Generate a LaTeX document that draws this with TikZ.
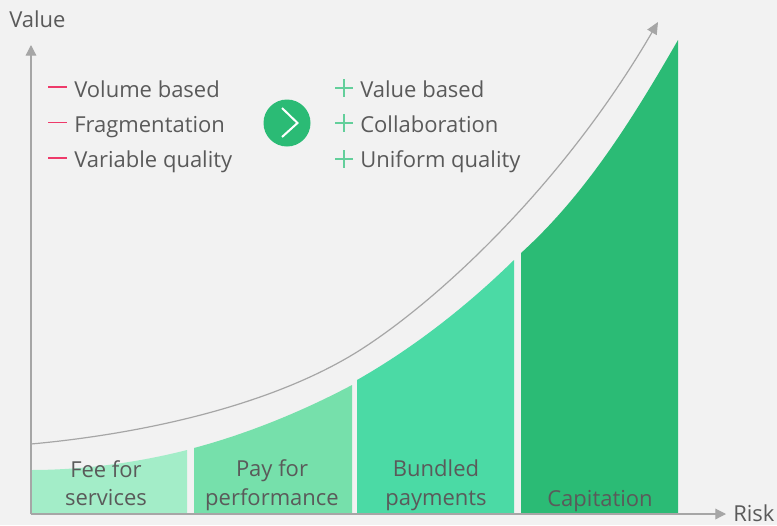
\documentclass[tikz,border=0pt]{standalone}
\usepackage{fontspec}
\setmainfont{Open Sans}
\usetikzlibrary{arrows.meta}
\definecolor{pagegrey}{HTML}{F2F2F2}
\definecolor{axisgrey}{HTML}{A6A6A6}
\definecolor{textgrey}{HTML}{5A5A5A}
\definecolor{feegreen}{HTML}{A3EDC8}
\definecolor{paygreen}{HTML}{76E0AB}
\definecolor{bundlegreen}{HTML}{4BDAA5}
\definecolor{capgreen}{HTML}{2BBB75}
\definecolor{minusred}{HTML}{EE3A6A}
\definecolor{plusgreen}{HTML}{63CF9B}
\tikzset{
  axisline/.style={draw=axisgrey,line width=0.9pt,-{Triangle[length=8pt,width=8pt]}},
  label/.style={text=textgrey,inner sep=0pt,font=\fontsize{16.5}{18}\selectfont},
  minusmark/.style={draw=minusred,line width=1.2pt},
  plusmark/.style={draw=plusgreen,line width=1.2pt},
}
\begin{document}
\begin{tikzpicture}[x=0.75pt,y=0.75pt,yscale=-1,xscale=1]
\fill[pagegrey] (0,0) rectangle (777,525);
\useasboundingbox (0,0) rectangle (777,525);

%Blocks
\fill[feegreen] (31,514) -- (31,470) .. controls (85,470) and (140,462) .. (187,450) -- (187,514) -- cycle;
\fill[paygreen] (194,514) -- (194,448) .. controls (250,433) and (305,410) .. (352,385) -- (352,514) -- cycle;
\fill[bundlegreen] (357,514) -- (357,380) .. controls (415,347) and (468,305) .. (514,260) -- (514,514) -- cycle;
\fill[capgreen] (521,514) -- (521,253) .. controls (585,195) and (632,120) .. (678,40) -- (678,514) -- cycle;

%Axes
\coordinate (origin) at (31,514);
\coordinate (valuetip) at (31,45);
\coordinate (risktip) at (726,514);
\coordinate (curvestart) at (31,444);
\coordinate (curvemid) at (357,352);
\coordinate (curvetip) at (658,22);
\draw[axisline] (origin) -- (valuetip);
\draw[axisline] (origin) -- (risktip);
\draw[draw=axisgrey,line width=0.9pt,-{Triangle[length=9pt,width=8pt]}] (curvestart) .. controls (120,436) and (260,412) .. (curvemid) .. controls (440,300) and (565,182) .. (curvetip);

%Minus marks
\coordinate (minusa) at (48,87);
\coordinate (minusb) at (48,122.5);
\coordinate (minusc) at (48,158);
\coordinate (minusaend) at (67,87);
\coordinate (minusbend) at (67,122.5);
\coordinate (minuscend) at (67,158);
\draw[minusmark] (minusa) -- (minusaend);
\draw[minusmark] (minusb) -- (minusbend);
\draw[minusmark,line width=1.9pt] (minusc) -- (minuscend);

%Plus marks
\draw[plusmark] (335,88) -- (353,88) (344,79) -- (344,97);
\draw[plusmark] (335,123) -- (353,123) (344,114) -- (344,132);
\draw[plusmark] (335,159) -- (353,159) (344,150) -- (344,168);

%Circle with chevron
\node (switch) at (287,123) [circle,fill=capgreen,inner sep=0pt,minimum size=47pt*0.75] {};
\draw[white,line width=1.5pt] (282,108) -- (297.5,123) -- (282,137);

% Text Node
\node (value) at (9,27) [label,anchor=base west] {Value};
% Text Node
\node (risk) at (733,521) [label,anchor=base west] {Risk};
% Text Node
\node (volume) at (74,97) [label,anchor=base west] {Volume based};
% Text Node
\node (fragmentation) at (74,132) [label,anchor=base west] {Fragmentation};
% Text Node
\node (variable) at (74,167) [label,anchor=base west] {Variable quality};
% Text Node
\node (valuebased) at (360,97) [label,anchor=base west] {Value based};
% Text Node
\node (collaboration) at (360,132) [label,anchor=base west] {Collaboration};
% Text Node
\node (uniform) at (360,167) [label,anchor=base west] {Uniform quality};
% Text Node
\node (fee) at (106,477) [label,anchor=base] {Fee for};
% Text Node
\node (services) at (106,505.5) [label,anchor=base] {services};
% Text Node
\node (pay) at (272,476) [label,anchor=base] {Pay for};
% Text Node
\node (performance) at (272,505) [label,anchor=base] {performance};
% Text Node
\node (bundled) at (436,476) [label,anchor=base] {Bundled};
% Text Node
\node (payments) at (436,505) [label,anchor=base] {payments};
% Text Node
\node (capitation) at (600,506) [label,anchor=base] {Capitation};

\end{tikzpicture}
\end{document}
